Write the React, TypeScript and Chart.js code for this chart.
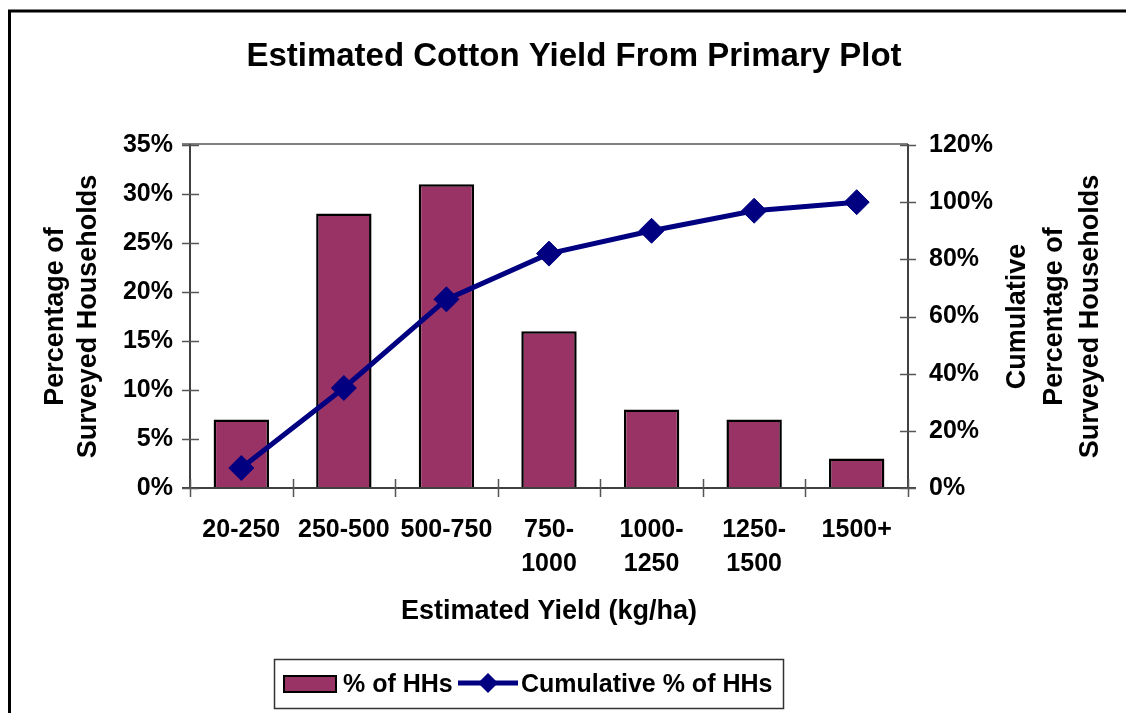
import React, { useEffect, useRef } from "react";
import { Chart, registerables } from "chart.js";

Chart.register(...registerables);

const categories: (string | string[])[] = [
  "20-250",
  "250-500",
  "500-750",
  ["750-", "1000"],
  ["1000-", "1250"],
  ["1250-", "1500"],
  "1500+",
];
const pctHHs = [7, 28, 31, 16, 8, 7, 3];
const cumulativePct = [7, 35, 66, 82, 90, 97, 100];
const leftTicks = { min: 0, max: 35, step: 5 };
const rightTicks = { min: 0, max: 120, step: 20 };

const chartTitle = "Estimated Cotton Yield From Primary Plot";
const xTitle = "Estimated Yield (kg/ha)";
const leftTitle = ["Percentage of", "Surveyed Households"];
const rightTitle = ["Cumulative", "Percentage of", "Surveyed Households"];
const seriesNames = ["% of HHs", "Cumulative % of HHs"];

const BAR = "#993366";
const LINE = "#000080";
const FONT = "'Liberation Sans', Arial, sans-serif";

const decor = {
  id: "decor",
  afterDraw(chart: any) {
    const ctx: CanvasRenderingContext2D = chart.ctx;
    const a = chart.chartArea;
    const yl = chart.scales.y;
    const yr = chart.scales.y1;
    ctx.save();
    // outer border
    ctx.strokeStyle = "#000";
    ctx.lineWidth = 3;
    ctx.beginPath();
    ctx.moveTo(9.5, 713);
    ctx.lineTo(9.5, 11);
    ctx.lineTo(1126, 11);
    ctx.stroke();

    // plot frame
    ctx.lineWidth = 2;
    ctx.strokeStyle = "#808080";
    ctx.beginPath();
    ctx.moveTo(a.left - 8, a.top - 1);
    ctx.lineTo(a.right, a.top - 1);
    ctx.stroke();
    ctx.strokeStyle = "#404040";
    ctx.beginPath();
    ctx.moveTo(a.left, a.top - 1);
    ctx.lineTo(a.left, a.bottom);
    ctx.moveTo(a.right, a.top - 1);
    ctx.lineTo(a.right, a.bottom);
    ctx.stroke();
    ctx.beginPath();
    ctx.moveTo(a.left - 8, a.bottom);
    ctx.lineTo(a.right + 8, a.bottom);
    ctx.stroke();

    // ticks
    ctx.strokeStyle = "#555";
    ctx.lineWidth = 1.5;
    ctx.beginPath();
    for (let v = leftTicks.min; v <= leftTicks.max; v += leftTicks.step) {
      const py = Math.round(yl.getPixelForValue(v)) + 0.5;
      ctx.moveTo(a.left - 8, py);
      ctx.lineTo(a.left + 9, py);
    }
    for (let v = rightTicks.min; v <= rightTicks.max; v += rightTicks.step) {
      const py = Math.round(yr.getPixelForValue(v)) + 0.5;
      ctx.moveTo(a.right - 8, py);
      ctx.lineTo(a.right + 8, py);
    }
    const n = categories.length;
    const cw = (a.right - a.left) / n;
    for (let i = 0; i <= n; i++) {
      const px = Math.round(a.left + i * cw) + 0.5;
      ctx.moveTo(px, a.bottom - 9);
      ctx.lineTo(px, a.bottom + 9);
    }
    ctx.stroke();

    // titles
    ctx.fillStyle = "#000";
    ctx.textAlign = "center";
    ctx.textBaseline = "middle";
    ctx.font = `bold 33px ${FONT}`;
    ctx.fillText(chartTitle, 574, 57);
    ctx.font = `bold 27px ${FONT}`;
    ctx.fillText(xTitle, (a.left + a.right) / 2, 612);
    const cy = (a.top + a.bottom) / 2;
    const leftX = [56, 89];
    leftTitle.forEach((t, i) => {
      ctx.save();
      ctx.translate(leftX[i], cy);
      ctx.rotate(-Math.PI / 2);
      ctx.fillText(t, 0, 0);
      ctx.restore();
    });
    const rightX = [1018, 1055, 1091];
    rightTitle.forEach((t, i) => {
      ctx.save();
      ctx.translate(rightX[i], cy);
      ctx.rotate(-Math.PI / 2);
      ctx.fillText(t, 0, 0);
      ctx.restore();
    });

    // legend
    ctx.lineWidth = 1.5;
    ctx.strokeStyle = "#333";
    ctx.strokeRect(274.5, 659.5, 509, 49);
    ctx.fillStyle = BAR;
    ctx.fillRect(284, 676, 52, 16);
    ctx.strokeStyle = "#000";
    ctx.lineWidth = 2;
    ctx.strokeRect(284, 676, 52, 16);
    ctx.fillStyle = "#000";
    ctx.textAlign = "left";
    ctx.font = `bold 25px ${FONT}`;
    ctx.fillText(seriesNames[0], 343, 685);
    ctx.strokeStyle = LINE;
    ctx.lineWidth = 5;
    ctx.beginPath();
    ctx.moveTo(458, 683);
    ctx.lineTo(518, 683);
    ctx.stroke();
    ctx.fillStyle = LINE;
    ctx.beginPath();
    ctx.moveTo(488, 673);
    ctx.lineTo(498, 683);
    ctx.lineTo(488, 693);
    ctx.lineTo(478, 683);
    ctx.closePath();
    ctx.fill();
    ctx.fillStyle = "#000";
    ctx.fillText(seriesNames[1], 521, 685);
    ctx.restore();
  },
};

export default function App() {
  const ref = useRef<HTMLCanvasElement>(null);
  useEffect(() => {
    document.body.style.margin = "0";
    const tickFont = { family: FONT, size: 25, weight: "bold" as const, lineHeight: 1.36 };
    const chart = new Chart(ref.current!, {
      type: "bar",
      data: {
        labels: categories,
        datasets: [
          {
            type: "line",
            label: seriesNames[1],
            data: cumulativePct,
            yAxisID: "y1",
            borderColor: LINE,
            backgroundColor: LINE,
            borderWidth: 5,
            pointStyle: "rectRot",
            pointRadius: 12.5,
            pointBorderWidth: 1,
            pointBackgroundColor: LINE,
            pointBorderColor: LINE,
            tension: 0,
            order: 0,
          },
          {
            type: "bar",
            label: seriesNames[0],
            data: pctHHs,
            yAxisID: "y",
            backgroundColor: BAR,
            borderColor: "#000",
            borderWidth: 2.5,
            categoryPercentage: 1,
            barPercentage: 0.54,
            order: 1,
          },
        ],
      },
      options: {
        responsive: false,
        animation: false,
        layout: { padding: { top: 145, left: 0, right: 0, bottom: 0 } },
        plugins: { legend: { display: false }, title: { display: false }, tooltip: { enabled: false } },
        scales: {
          x: {
            grid: { display: false, drawTicks: false },
            border: { display: false },
            ticks: { font: tickFont, color: "#000", padding: 25, maxRotation: 0, autoSkip: false },
            afterFit: (s: any) => {
              s.height = 225;
            },
          },
          y: {
            position: "left",
            min: leftTicks.min,
            max: leftTicks.max,
            grid: { display: false, drawTicks: false },
            border: { display: false },
            ticks: {
              stepSize: leftTicks.step,
              font: tickFont,
              color: "#000",
              padding: 17,
              callback: (v: any) => v + "%",
            },
            afterFit: (s: any) => {
              s.width = 190;
            },
          },
          y1: {
            position: "right",
            min: rightTicks.min,
            max: rightTicks.max,
            grid: { display: false, drawTicks: false },
            border: { display: false },
            ticks: {
              stepSize: rightTicks.step,
              font: tickFont,
              color: "#000",
              padding: 21,
              callback: (v: any) => v + "%",
            },
            afterFit: (s: any) => {
              s.width = 218;
            },
          },
        },
      },
      plugins: [decor],
    });
    return () => chart.destroy();
  }, []);
  return <canvas ref={ref} width={1126} height={713} style={{ display: "block" }} />;
}
